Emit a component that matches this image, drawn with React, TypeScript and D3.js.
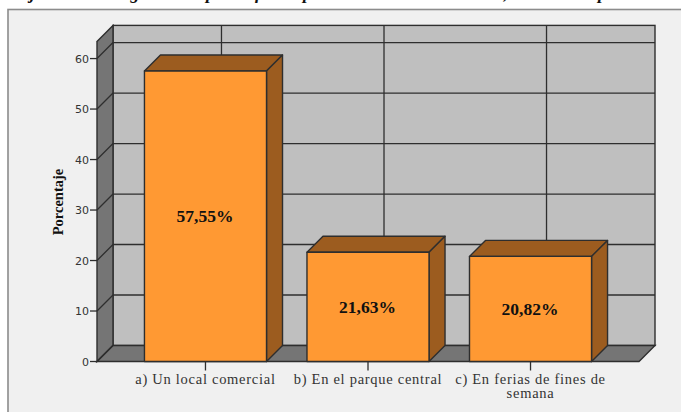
import React from "react";
import * as d3 from "d3";

const categories = ["a) Un local comercial", "b) En el parque central", "c) En ferias de fines de|semana"];
const values = [57.55, 21.63, 20.82];
const yTicks = [0, 10, 20, 30, 40, 50, 60];
const yMax = 63.4;
const yAxisLabel = "Porcentaje";
const titleWords = ["Objetivo 3: El lugar de", "para", "ofrecer", "productos de la comunidad,", "en su zona", "para la venta"];
const titleStarts = [8, 206, 246, 303, 506, 598];

const WIDTH = 681;
const HEIGHT = 412;
const DEPTH = 16;
const FRONT = { left: 97, right: 639, bottom: 361.5, top: 41.4 };

const BAR_FRONT = "#ff9933";
const BAR_SHADE = "#9c5c1f";
const WALL = "#bfbfbf";
const SIDE = "#757575";
const INK = "#2e2e2e";
const FRAME_BG = "#f0f0f0";

const y = d3.scaleLinear().domain([0, yMax]).range([FRONT.bottom, FRONT.top]);
const x = d3
  .scaleBand<string>()
  .domain(categories)
  .range([FRONT.left, FRONT.right])
  .paddingInner(0.249)
  .paddingOuter(0.292);

const formatPercent = (v: number) => d3.format(".2f")(v).replace(".", ",") + "%";
const poly = (pts: [number, number][]) => pts.map((p) => p.join(",")).join(" ");

export default function App() {
  const backLeft = FRONT.left + DEPTH;
  const backRight = FRONT.right + DEPTH;
  const backTop = FRONT.top - DEPTH;
  const backBottom = FRONT.bottom - DEPTH;
  const centers = categories.map((c) => (x(c) as number) + x.bandwidth() / 2);

  return (
    <svg
      width={WIDTH}
      height={HEIGHT}
      style={{ position: "absolute", left: 0, top: 0, display: "block" }}
    >
      <rect width={WIDTH} height={HEIGHT} fill="#ffffff" />
      {/* Heading runs off the top edge, only its descenders stay in view */}
      <text
        y={-1}
        fontFamily="'Liberation Serif'"
        fontWeight="bold"
        fontStyle="italic"
        fontSize={18}
        fill="#111"
      >
        {titleWords.map((w, i) => (
          <tspan key={w} x={titleStarts[i]}>
            {w}
          </tspan>
        ))}
      </text>
      <rect x={8} y={9.5} width={WIDTH + 20} height={HEIGHT + 20} fill={FRAME_BG} stroke="#8c8c8c" strokeWidth={1.6} />

      {/* Back wall, side wall and floor */}
      <rect x={backLeft} y={backTop} width={FRONT.right - FRONT.left} height={backBottom - backTop} fill={WALL} stroke={INK} strokeWidth={1.4} />
      <polygon
        points={poly([[FRONT.left, FRONT.top], [backLeft, backTop], [backLeft, backBottom], [FRONT.left, FRONT.bottom]])}
        fill={SIDE}
        stroke={INK}
        strokeWidth={1.4}
      />
      <polygon
        points={poly([[FRONT.left, FRONT.bottom], [backLeft, backBottom], [backRight, backBottom], [FRONT.right, FRONT.bottom]])}
        fill={SIDE}
        stroke={INK}
        strokeWidth={1.4}
      />

      {/* Gridlines wrapping the walls */}
      {yTicks.map((t) => (
        <g key={t} stroke={INK} strokeWidth={1.3} fill="none">
          <line x1={FRONT.left} y1={y(t)} x2={backLeft} y2={y(t) - DEPTH} />
          {t > 0 && <line x1={backLeft} y1={y(t) - DEPTH} x2={backRight} y2={y(t) - DEPTH} />}
          <line x1={FRONT.left - 7} y1={y(t)} x2={FRONT.left} y2={y(t)} />
        </g>
      ))}
      {centers.map((c) => (
        <g key={c} stroke={INK} strokeWidth={1.3}>
          <line x1={c + DEPTH} y1={backTop} x2={c + DEPTH} y2={backBottom} />
          <line x1={c} y1={FRONT.bottom} x2={c} y2={FRONT.bottom + 9} />
        </g>
      ))}

      {/* Extruded bars */}
      {values.map((v, i) => {
        const left = x(categories[i]) as number;
        const right = left + x.bandwidth();
        const top = y(v);
        return (
          <g key={categories[i]} stroke={INK} strokeWidth={1.4} strokeLinejoin="round">
            <polygon
              points={poly([[left, top], [left + DEPTH, top - DEPTH], [right + DEPTH, top - DEPTH], [right, top]])}
              fill={BAR_SHADE}
            />
            <polygon
              points={poly([[right, top], [right + DEPTH, top - DEPTH], [right + DEPTH, FRONT.bottom - DEPTH], [right, FRONT.bottom]])}
              fill={BAR_SHADE}
            />
            <rect x={left} y={top} width={right - left} height={FRONT.bottom - top} fill={BAR_FRONT} />
            <text
              x={(left + right) / 2 - 0.5}
              y={(top + FRONT.bottom) / 2 + 6}
              textAnchor="middle"
              fontFamily="'Liberation Serif'"
              fontWeight="bold"
              fontSize={17.5}
              fill="#111"
              stroke="none"
            >
              {formatPercent(v)}
            </text>
          </g>
        );
      })}

      {/* Axis text */}
      {yTicks.map((t) => (
        <text
          key={t}
          x={FRONT.left - 8}
          y={y(t) + 4}
          textAnchor="end"
          fontFamily="'DejaVu Sans'"
          fontSize={11}
          fill="#333"
        >
          {t}
        </text>
      ))}
      <text
        transform={`translate(63,202) rotate(-90)`}
        textAnchor="middle"
        fontFamily="'Liberation Serif'"
        fontWeight="bold"
        fontSize={14.5}
        fill="#111"
      >
        {yAxisLabel}
      </text>
      {categories.map((c, i) =>
        c.split("|").map((line, j) => (
          <text
            key={line}
            x={centers[i]}
            y={384 + j * 14}
            textAnchor="middle"
            fontFamily="'Liberation Serif'"
            fontSize={14.5}
            letterSpacing={0.72}
            fill="#333"
          >
            {line}
          </text>
        ))
      )}
    </svg>
  );
}
